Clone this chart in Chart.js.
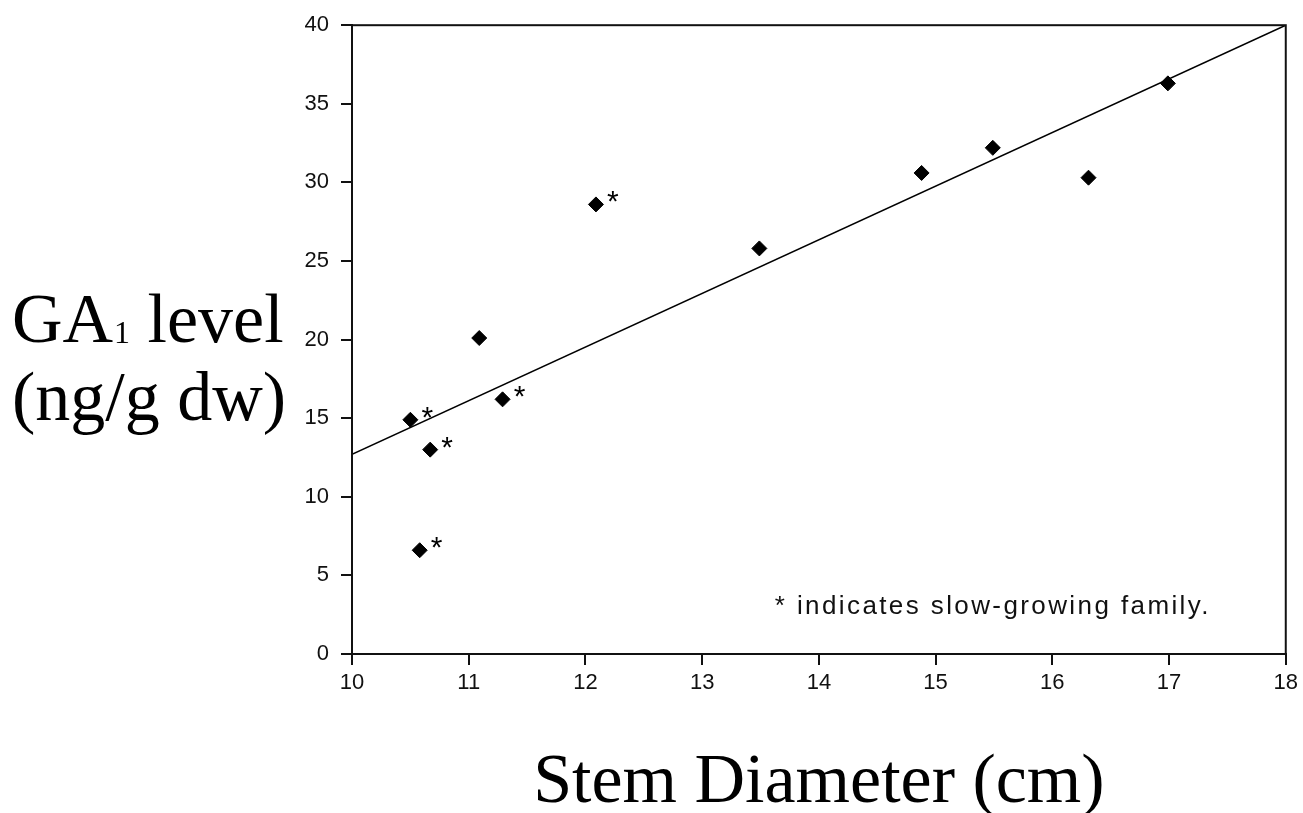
<!DOCTYPE html>
<html>
<head>
<meta charset="utf-8">
<title>GA1 level vs stem diameter</title>
<script src="https://cdn.jsdelivr.net/npm/chart.js@4.4.1/dist/chart.umd.min.js"></script>
<style>
  html, body { margin: 0; padding: 0; background: #fff; }
  #wrap { width: 1303px; height: 813px; }
</style>
</head>
<body>
<div id="wrap"><canvas id="ga1Chart" width="1303" height="813"></canvas></div>
<script>
// measured points
const stemDiameter = [10.5, 10.67, 10.58, 11.09, 11.29, 12.09, 13.49, 14.88, 15.49, 16.31, 16.99];
const ga1Level = [14.9, 13.0, 6.6, 20.1, 16.2, 28.6, 25.8, 30.6, 32.2, 30.3, 36.3];
const slowGrowing = [true, true, true, false, true, true, false, false, false, false, false];

// regression line end points
const fitX = [10, 18];
const fitY = [12.7, 40];

const xTickValues = [10, 11, 12, 13, 14, 15, 16, 17, 18];
const yTickValues = [0, 5, 10, 15, 20, 25, 30, 35, 40];

const serif = '"Liberation Serif", "Times New Roman", serif';
const sans = '"Liberation Sans", Arial, sans-serif';

const annotations = {
    id: 'annotations',
    afterDatasetsDraw(chart) {
        const { ctx, chartArea: a, scales: { x, y } } = chart;
        ctx.save();

        // box round the plot
        ctx.strokeStyle = '#111';
        ctx.lineWidth = 2;
        ctx.strokeRect(a.left, a.top, a.right - a.left, a.bottom - a.top);

        // asterisks next to slow-growing families
        ctx.fillStyle = '#000';
        ctx.font = '30px ' + sans;
        ctx.textAlign = 'center';
        ctx.textBaseline = 'alphabetic';
        stemDiameter.forEach((d, i) => {
            if (!slowGrowing[i]) return;
            ctx.fillText('*', x.getPixelForValue(d) + 17, y.getPixelForValue(ga1Level[i]) + 7);
        });

        // footnote
        ctx.font = '26px ' + sans;
        ctx.letterSpacing = '2.4px';
        ctx.textAlign = 'left';
        ctx.fillStyle = '#111';
        ctx.fillText('* indicates slow-growing family.', a.right - 511, a.bottom - 40);
        ctx.letterSpacing = '0px';

        // y title, horizontal, two lines
        ctx.fillStyle = '#000';
        ctx.font = '70px ' + serif;
        let tx = 12;
        ctx.fillText('GA', tx, 342);
        tx += ctx.measureText('GA').width + 1;
        ctx.font = '32px ' + serif;
        ctx.fillText('1', tx, 343);
        tx += ctx.measureText('1').width;
        ctx.font = '70px ' + serif;
        ctx.fillText(' level', tx, 342);
        ctx.fillText('(ng/g dw)', 12, 420);

        // x title
        ctx.textAlign = 'center';
        ctx.fillText('Stem Diameter (cm)', (a.left + a.right) / 2, 802);

        ctx.restore();
    }
};

const axisStyle = {
    border: { display: true, color: '#111', width: 2 },
    grid: { drawOnChartArea: false, drawTicks: true, tickLength: 11, color: '#111', lineWidth: 2 },
    ticks: { color: '#111', font: { family: sans, size: 22 } }
};

const ctx = document.getElementById('ga1Chart').getContext('2d');

const ga1Chart = new Chart(ctx, {
    type: 'scatter',
    data: {
        datasets: [{
            label: 'GA1 level',
            data: stemDiameter.map((d, i) => ({ x: d, y: ga1Level[i] })),
            pointStyle: 'rectRot',
            pointRadius: 7.5,
            backgroundColor: '#000',
            borderColor: '#000',
            borderWidth: 1,
            order: 1
        }, {
            label: 'fit',
            data: fitX.map((v, i) => ({ x: v, y: fitY[i] })),
            showLine: true,
            pointRadius: 0,
            borderColor: '#000',
            borderWidth: 1.5,
            order: 2
        }]
    },
    options: {
        responsive: false,
        animation: false,
        layout: { padding: { left: 292, top: 23, right: 15, bottom: 109 } },
        plugins: { legend: { display: false }, tooltip: { enabled: false } },
        scales: {
            x: {
                type: 'linear',
                min: 10,
                max: 18,
                border: axisStyle.border,
                grid: axisStyle.grid,
                ticks: { ...axisStyle.ticks, padding: 5, maxRotation: 0 },
                afterBuildTicks: s => { s.ticks = xTickValues.map(v => ({ value: v })); },
                afterFit: s => { s.height = 50; }
            },
            y: {
                min: 0,
                max: 40,
                border: axisStyle.border,
                grid: axisStyle.grid,
                ticks: { ...axisStyle.ticks, padding: 12 },
                afterBuildTicks: s => { s.ticks = yTickValues.map(v => ({ value: v })); },
                afterFit: s => { s.width = 60; }
            }
        }
    },
    plugins: [annotations]
});
</script>
</body>
</html>
